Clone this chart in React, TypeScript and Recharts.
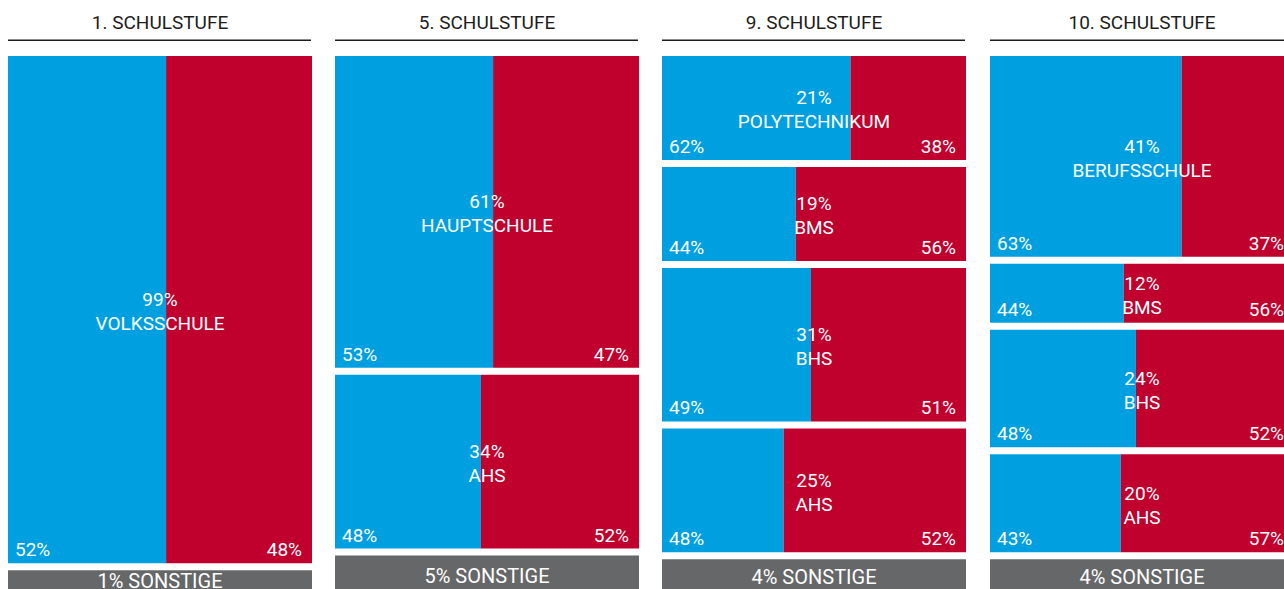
import React from 'react';
import { ComposedChart, XAxis, YAxis, ReferenceArea } from 'recharts';

// ---------- data ----------
const panelTitles = ['1. SCHULSTUFE', '5. SCHULSTUFE', '9. SCHULSTUFE', '10. SCHULSTUFE'];
const schoolNames = [
  ['VOLKSSCHULE'],
  ['HAUPTSCHULE', 'AHS'],
  ['POLYTECHNIKUM', 'BMS', 'BHS', 'AHS'],
  ['BERUFSSCHULE', 'BMS', 'BHS', 'AHS'],
];
const schoolShares = [[99], [61, 34], [21, 19, 31, 25], [41, 12, 24, 20]];
// printed blue (left) percentages
const blueShares = [[52], [53, 48], [62, 44, 49, 48], [63, 44, 48, 43]];
// blue/red split as drawn in the graphic
const blueSplit = [[52], [52, 48], [62, 44, 49, 40], [63, 44, 48, 43]];
const otherShares = [1, 5, 4, 4];
const otherLabel = 'SONSTIGE';

// ---------- style / layout ----------
const BLUE = '#009fe0';
const RED = '#c0002d';
const GREY = '#666768';
const FONT = 'Roboto, "Open Sans", sans-serif';
const PANEL_X = [8, 335, 662, 990];
const PANEL_W = 304;
const CHART_TOP = 56;
const CHART_H = 560;
const GAP = 7;
const OTHER_BASE = 517.8;
const OTHER_PER_PCT = 3.65;

type Row = { name: string; share: number; blue: number; split: number; y0: number; y1: number };

function buildRows(p: number): { rows: Row[]; otherTop: number } {
  const otherTop = OTHER_BASE - OTHER_PER_PCT * otherShares[p];
  const mainEnd = otherTop - GAP;
  const shares = schoolShares[p];
  const sum = shares.reduce((a, b) => a + b, 0);
  const avail = mainEnd - GAP * (shares.length - 1);
  let y = 0;
  const rows: Row[] = shares.map((s, i) => {
    const h = (avail * s) / sum;
    const r = {
      name: schoolNames[p][i],
      share: s,
      blue: blueShares[p][i],
      split: blueSplit[p][i],
      y0: y,
      y1: y + h,
    };
    y += h + GAP;
    return r;
  });
  return { rows, otherTop };
}

const rowLabel = (r: Row) => (props: any) => {
  const vb = props.viewBox || {};
  const { x, y, width, height } = vb;
  return (
    <g fill="#ffffff" fontSize={19} fontFamily={FONT}>
      <text x={x + 7} y={y + height - 7}>{r.blue}%</text>
      <text x={x + width - 10} y={y + height - 7} textAnchor="end">{100 - r.blue}%</text>
      <text x={x + width / 2} y={y + height / 2 - 3.5} textAnchor="middle">{r.share}%</text>
      <text x={x + width / 2} y={y + height / 2 + 20.5} textAnchor="middle">{r.name}</text>
    </g>
  );
};

const otherLabelFn = (p: number) => (props: any) => {
  const vb = props.viewBox || {};
  const { x, y, width } = vb;
  const s = otherShares[p];
  return (
    <text x={x + width / 2} y={y + 16 + 2.2 * s} textAnchor="middle" fill="#ffffff" fontSize={20} fontFamily={FONT}>
      {s}% {otherLabel}
    </text>
  );
};

function Panel({ p }: { p: number }) {
  const { rows, otherTop } = buildRows(p);
  return (
    <div style={{ position: 'absolute', left: PANEL_X[p], top: 0, width: PANEL_W }}>
      <svg width={PANEL_W} height={CHART_TOP} style={{ display: 'block' }}>
        <text x={PANEL_W / 2} y={29} textAnchor="middle" fontSize={19} fontFamily={FONT} fill="#1d1d1b">
          {panelTitles[p]}
        </text>
        <line x1={0} x2={PANEL_W - 1} y1={40.3} y2={40.3} stroke="#1d1d1b" strokeWidth={1.6} />
      </svg>
      <ComposedChart
        width={PANEL_W}
        height={CHART_H}
        data={rows}
        margin={{ top: 0, right: 0, bottom: 0, left: 0 }}
      >
        <XAxis type="number" dataKey="split" domain={[0, 100]} hide allowDataOverflow />
        <YAxis type="number" domain={[0, CHART_H]} reversed hide allowDataOverflow width={0} />
        {rows.map((r, i) => (
          <ReferenceArea key={'b' + i} x1={0} x2={r.split} y1={r.y0} y2={r.y1} fill={BLUE} fillOpacity={1} ifOverflow="visible" />
        ))}
        {rows.map((r, i) => (
          <ReferenceArea key={'r' + i} x1={r.split} x2={100} y1={r.y0} y2={r.y1} fill={RED} fillOpacity={1} ifOverflow="visible" />
        ))}
        <ReferenceArea
          x1={0}
          x2={100}
          y1={otherTop}
          y2={CHART_H}
          fill={GREY}
          fillOpacity={1}
          ifOverflow="visible"
          label={otherLabelFn(p)}
        />
        {rows.map((r, i) => (
          <ReferenceArea
            key={'l' + i}
            x1={0}
            x2={100}
            y1={r.y0}
            y2={r.y1}
            fill="none"
            fillOpacity={0}
            ifOverflow="visible"
            label={rowLabel(r)}
          />
        ))}
      </ComposedChart>
    </div>
  );
}

export default function App() {
  return (
    <div
      style={{
        position: 'fixed',
        left: 0,
        top: 0,
        width: 1284,
        height: 589,
        overflow: 'hidden',
        background: '#ffffff',
        fontFamily: FONT,
      }}
    >
      {panelTitles.map((_, p) => (
        <Panel key={p} p={p} />
      ))}
    </div>
  );
}
